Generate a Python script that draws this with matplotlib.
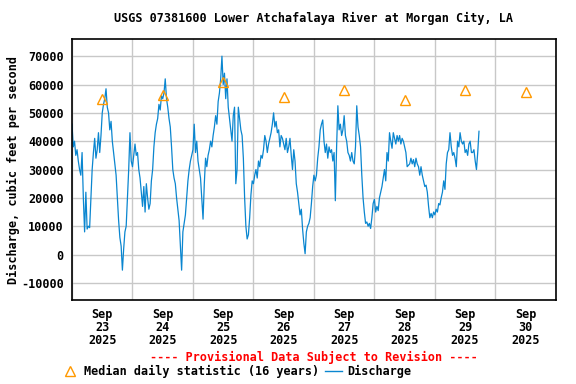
import matplotlib
matplotlib.use("Agg")
import matplotlib.pyplot as plt
from matplotlib.lines import Line2D

# hours since Sep 23 2025 00:00 and discharge (cfs)
hours = [
    0, 0.5, 1, 1.5, 2, 2.5, 3, 3.5, 4, 4.5, 5, 5.5, 6, 6.5, 7, 7.5, 8, 8.5, 9, 9.5,
    10, 10.5, 11, 11.5, 12, 12.5, 13, 13.5, 14, 14.5, 15, 15.5, 16, 16.5, 17, 17.5,
    18, 18.5, 19, 19.5, 20, 20.5, 21, 21.5, 22, 22.5, 23, 23.5, 24, 24.5, 25, 25.5,
    26, 26.5, 27, 27.5, 28, 28.5, 29, 29.5, 30, 30.5, 31, 31.5, 32, 32.5, 33, 33.5,
    34, 34.5, 35, 35.5, 36, 36.5, 37, 37.5, 38, 38.5, 39, 39.5, 40, 40.5, 41, 41.5,
    42, 42.5, 43, 43.5, 44, 44.5, 45, 45.5, 46, 46.5, 47, 47.5, 48, 48.5, 49, 49.5,
    50, 50.5, 51, 51.5, 52, 52.5, 53, 53.5, 54, 54.5, 55, 55.5, 56, 56.5, 57, 57.5,
    58, 58.5, 59, 59.5, 60, 60.5, 61, 61.5, 62, 62.5, 63, 63.5, 64, 64.5, 65, 65.5,
    66, 66.5, 67, 67.5, 68, 68.5, 69, 69.5, 70, 70.5, 71, 71.5, 72, 72.5, 73, 73.5,
    74, 74.5, 75, 75.5, 76, 76.5, 77, 77.5, 78, 78.5, 79, 79.5, 80, 80.5, 81, 81.5,
    82, 82.5, 83, 83.5, 84, 84.5, 85, 85.5, 86, 86.5, 87, 87.5, 88, 88.5, 89, 89.5,
    90, 90.5, 91, 91.5, 92, 92.5, 93, 93.5, 94, 94.5, 95, 95.5, 96, 96.5, 97, 97.5,
    98, 98.5, 99, 99.5, 100, 100.5, 101, 101.5, 102, 102.5, 103, 103.5, 104, 104.5,
    105, 105.5, 106, 106.5, 107, 107.5, 108, 108.5, 109, 109.5, 110, 110.5, 111, 111.5,
    112, 112.5, 113, 113.5, 114, 114.5, 115, 115.5, 116, 116.5, 117, 117.5, 118, 118.5,
    119, 119.5, 120, 120.5, 121, 121.5, 122, 122.5, 123, 123.5, 124, 124.5, 125, 125.5,
    126, 126.5, 127, 127.5, 128, 128.5, 129, 129.5, 130, 130.5, 131, 131.5, 132, 132.5,
    133, 133.5, 134, 134.5, 135, 135.5, 136, 136.5, 137, 137.5, 138, 138.5, 139, 139.5,
    140, 140.5, 141, 141.5, 142, 142.5, 143, 143.5, 144, 144.5, 145, 145.5, 146, 146.5,
    147, 147.5, 148, 148.5, 149, 149.5, 150, 150.5, 151, 151.5, 152, 152.5, 153, 153.5,
    154, 154.5, 155, 155.5, 156, 156.5, 157, 157.5, 158, 158.5, 159, 159.5, 160, 160.5,
    161, 161.5,
]
discharge = [
    46000, 38000, 40000, 35000, 37000, 33000, 30000, 28000, 36000, 20000,
    8000, 22000, 9000, 10000, 9500, 20000, 30000, 36000, 41000, 34000,
    37000, 43000, 36000, 42000, 50000, 53000, 55000, 58500, 52000, 50000,
    44000, 47000, 40000, 36000, 32000, 28000, 20000, 12000, 6000, 3000,
    -5500, 2000, 8000, 10000, 20000, 30000, 43000, 33000, 31000, 35000,
    39000, 35000, 36000, 30000, 27000, 22000, 17000, 24000, 15000, 25000,
    20000, 16000, 18000, 26000, 30000, 38000, 43000, 46000, 48000, 53000,
    51000, 56000, 55000, 57000, 62000, 55000, 52000, 48000, 45000, 38000,
    30000, 27000, 25000, 20000, 16000, 12000, 3000, -5500, 8000, 11000,
    14000, 20000, 26000, 30000, 33000, 35000, 37000, 46000, 36000, 40000,
    33000, 30000, 27000, 20000, 12500, 25000, 34000, 31000, 35000, 37000,
    40000, 38000, 42000, 45000, 49000, 46000, 54000, 57000, 62000, 70000,
    60000, 64000, 55000, 62000, 52000, 48000, 44000, 40000, 49000, 52000,
    25000, 30000, 52000, 48000, 44000, 42000, 34000, 20000, 10000, 5500,
    7000, 13000, 21000, 26000, 25000, 28000, 30000, 27000, 33000, 31000,
    35000, 34000, 37000, 42000, 40000, 36000, 39000, 41000, 43000, 46000,
    50000, 45000, 47000, 43000, 44000, 38000, 42000, 41000, 39000, 37000,
    41000, 36000, 38000, 41000, 35000, 30000, 37000, 33000, 25000, 22000,
    18000, 14000, 16000, 9000, 4000, 300, 8000, 10000, 11000, 13000,
    18000, 24000, 28000, 26000, 28000, 34000, 38000, 44000, 46000, 47500,
    40000, 36000, 39000, 34000, 38000, 36000, 37000, 33000, 36000, 19000,
    38000, 52500, 44000, 46000, 42000, 44000, 49000, 42000, 40000, 36000,
    35000, 33000, 36000, 33000, 32000, 38000, 52500, 45000, 42000, 38000,
    28000, 20000, 15000, 11000, 11500, 10000, 11000, 9200, 13000, 18000,
    19500, 15000, 17000, 15500, 20000, 22000, 24000, 27000, 30000, 26000,
    36000, 33000, 43000, 40000, 37500, 43000, 41000, 39000, 42000, 40000,
    42000, 39000, 41000, 40000, 38000, 36000, 31000, 31500, 32000, 34000,
    32000, 33500, 31000, 34000, 32000, 31000, 28000, 31000, 28000, 26000,
    24000, 24500, 22000, 17000, 13000, 14500, 13000, 15000, 14000, 16000,
    15000, 18000, 17500, 20000, 22000, 26000, 23000, 32000, 36000, 37000,
    43000, 38000, 35000, 36000, 34000, 31000, 40000, 38000, 43000, 40000,
    39000, 40000, 36000, 37000, 35000, 39000, 40000, 36000, 36000, 37000,
    33000, 30000, 36000, 43500,
]

# median daily statistic, plotted at noon of each day
median_hours = [12, 36, 60, 84, 108, 132, 156, 180]
median_values = [55000, 56300, 61000, 55600, 58000, 54500, 58000, 57300]

day_labels = ["Sep\n23\n2025", "Sep\n24\n2025", "Sep\n25\n2025", "Sep\n26\n2025",
              "Sep\n27\n2025", "Sep\n28\n2025", "Sep\n29\n2025", "Sep\n30\n2025"]
y_ticks = [-10000, 0, 10000, 20000, 30000, 40000, 50000, 60000, 70000]

blue = "#0a86d0"
orange = "#ff9900"
font = "DejaVu Sans Mono"

fig = plt.figure(figsize=(5.76, 3.84), dpi=100)
ax = fig.add_axes([0.125, 0.219, 0.84, 0.679])

ax.plot(hours, discharge, color=blue, lw=0.9)
ax.plot(median_hours, median_values, linestyle="none", marker="^", ms=7,
        mfc="none", mec=orange, mew=1.0)

ax.set_xlim(0, 192)
ax.set_ylim(-16000, 76000)
ax.set_xticks(range(0, 193, 24))
ax.set_xticklabels([])
ax.set_xticks(median_hours, minor=True)
ax.set_xticklabels(day_labels, minor=True, fontfamily=font, fontweight="bold",
                   fontsize=8.5, linespacing=1.0)
ax.set_yticks(y_ticks)
ax.set_yticklabels([str(v) for v in y_ticks], fontfamily=font, fontweight="bold", fontsize=8.5)
ax.tick_params(which="both", length=0)
ax.tick_params(axis="x", which="minor", pad=6)
ax.tick_params(axis="y", pad=6)
ax.grid(True, which="major", color="#c8c8c8", lw=1.0)
ax.set_axisbelow(True)
for s in ax.spines.values():
    s.set_color("black")
    s.set_linewidth(1.2)

ax.set_ylabel("Discharge, cubic feet per second", fontfamily=font, fontweight="bold",
              fontsize=8.5, labelpad=1)
fig.text(0.545, 0.951, "USGS 07381600 Lower Atchafalaya River at Morgan City, LA",
         ha="center", va="center", fontfamily=font, fontweight="bold", fontsize=8.5)
fig.text(0.545, 0.068, "---- Provisional Data Subject to Revision ----", color="red",
         ha="center", va="center", fontfamily=font, fontweight="bold", fontsize=8.5)

handles = [
    Line2D([], [], linestyle="none", marker="^", ms=7, mfc="none", mec=orange, mew=1.0),
    Line2D([], [], color=blue, lw=1.0),
]
fig.legend(handles, ["Median daily statistic (16 years)", "Discharge"], ncol=2,
           loc="center", bbox_to_anchor=(0.41, 0.033), frameon=False,
           prop={"family": font, "weight": "bold", "size": 8.5},
           handlelength=1.5, handletextpad=0.4, columnspacing=0.5, borderpad=0)

fig.savefig("out.png", dpi=100)
